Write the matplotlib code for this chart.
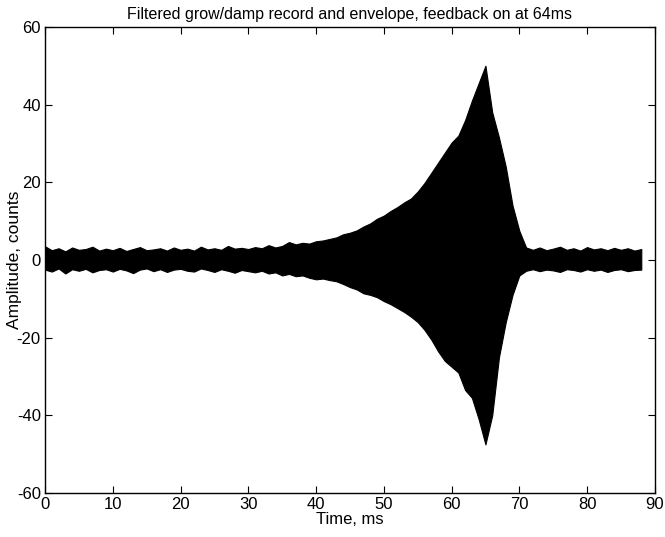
import matplotlib
matplotlib.use("Agg")
import matplotlib.pyplot as plt

plt.rcParams["font.family"] = ["Liberation Sans", "DejaVu Sans"]
plt.rcParams["axes.unicode_minus"] = False

# time of each envelope reading, ms
time_ms = list(range(0, 89))

# upper edge of the filtered record, counts
upper_env = [
    3.5, 2.5, 3.0, 2.2, 3.2, 2.6, 2.8, 3.4, 2.4, 2.9,
    2.5, 3.1, 2.3, 2.8, 3.3, 2.5, 2.7, 3.0, 2.4, 3.2,
    2.6, 2.9, 2.4, 3.4, 2.7, 3.0, 2.6, 3.6, 2.9, 3.1,
    2.8, 3.3, 3.0, 3.8, 3.2, 3.6, 4.6, 4.0, 4.4, 4.2,
    4.8, 5.0, 5.4, 5.8, 6.6, 7.0, 7.6, 8.6, 9.4, 10.6,
    11.4, 12.6, 13.6, 14.8, 15.8, 17.6, 19.8, 22.4, 25.0, 27.6,
    30.2, 32.0, 36.0, 41.0, 45.5, 50.0, 38.0, 31.5, 24.0, 14.0,
    7.5, 3.2, 2.6, 3.2, 2.5, 2.9, 3.4, 2.6, 3.0, 2.4,
    3.3, 2.7, 3.0, 2.5, 3.1, 2.6, 3.0, 2.4, 2.8,
]

# lower edge of the filtered record, counts
lower_env = [
    -2.5, -3.0, -2.2, -3.5, -2.4, -2.8, -2.3, -3.2, -2.6, -2.4,
    -3.0, -2.3, -2.7, -3.4, -2.5, -2.2, -2.9, -2.4, -3.1, -2.5,
    -2.3, -2.8, -3.0, -2.2, -2.6, -3.1, -2.4, -2.8, -3.3, -2.6,
    -2.9, -3.2, -2.8, -3.5, -3.2, -4.0, -3.6, -4.2, -4.0, -4.6,
    -5.0, -4.8, -5.2, -5.5, -6.2, -7.0, -7.6, -8.6, -9.0, -9.6,
    -10.6, -11.4, -12.4, -13.4, -14.6, -16.0, -18.0, -20.5, -23.5, -26.0,
    -27.5, -29.0, -33.5, -35.5, -41.0, -47.5, -40.0, -25.0, -16.0, -9.0,
    -4.0, -2.8, -2.4, -2.9, -2.5, -2.7, -3.1, -2.4, -2.6, -3.0,
    -2.4, -2.8, -2.5, -3.1, -2.6, -2.4, -2.9, -2.6, -2.5,
]

x_ticks = [0, 10, 20, 30, 40, 50, 60, 70, 80, 90]
y_ticks = [-60, -40, -20, 0, 20, 40, 60]

fig = plt.figure(figsize=(6.65, 5.37), dpi=100)
ax = fig.add_axes([0.0677, 0.082, 0.917, 0.868])

ax.fill_between(time_ms, lower_env, upper_env, color="black", linewidth=0.8)

ax.set_xlim(0, 90)
ax.set_ylim(-60, 60)
ax.set_xticks(x_ticks)
ax.set_yticks(y_ticks)
ax.tick_params(direction="in", top=True, right=True, length=5, width=0.8,
               labelsize=12, colors="black", pad=3)
for sp in ax.spines.values():
    sp.set_linewidth(1.0)

ax.set_xlabel("Time, ms", fontsize=12, labelpad=0)
ax.set_ylabel("Amplitude, counts", fontsize=12.5)
ax.yaxis.set_label_coords(-0.038, 0.5)
ax.set_title("Filtered grow/damp record and envelope, feedback on at 64ms",
             fontsize=11.5, pad=6)

fig.savefig("out.png", dpi=100)
